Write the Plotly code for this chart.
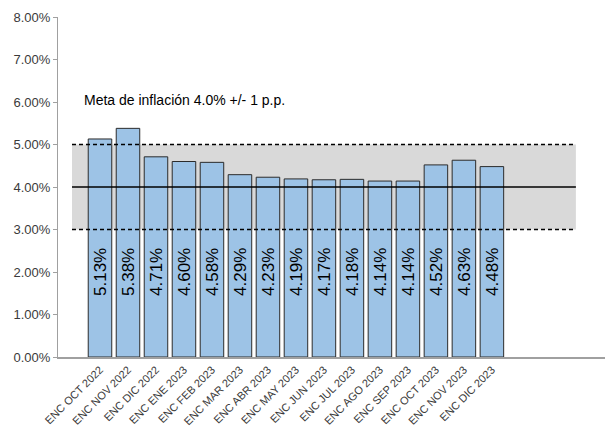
import plotly.graph_objects as go

# Inflation expectations survey (ENC), monthly readings
categories = ["ENC OCT 2022", "ENC NOV 2022", "ENC DIC 2022", "ENC ENE 2023",
              "ENC FEB 2023", "ENC MAR 2023", "ENC ABR 2023", "ENC MAY 2023",
              "ENC JUN 2023", "ENC JUL 2023", "ENC AGO 2023", "ENC SEP 2023",
              "ENC OCT 2023", "ENC NOV 2023", "ENC DIC 2023"]
values = [5.13, 5.38, 4.71, 4.60, 4.58, 4.29, 4.23, 4.19, 4.17, 4.18,
          4.14, 4.14, 4.52, 4.63, 4.48]

# Inflation target and tolerance band
target = 4.0
tolerance = 1.0
y_ticks = [0, 1, 2, 3, 4, 5, 6, 7, 8]

FONT = "Arial, Liberation Sans, sans-serif"
TEXT = "#3a3a3a"

x_idx = list(range(len(categories)))
band_x0 = -1
band_x1 = len(categories) + 2

fig = go.Figure()
fig.add_trace(go.Bar(
    x=x_idx, y=values, width=0.84,
    marker=dict(color="#9dc3e6", line=dict(color="#2b2b2b", width=1)),
    hoverinfo="skip", showlegend=False,
))

# tolerance band behind the bars
fig.add_shape(type="rect", xref="x", yref="y", x0=band_x0, x1=band_x1,
              y0=target - tolerance, y1=target + tolerance,
              fillcolor="#d9d9d9", line=dict(width=0), layer="below")
# band limits and target line above the bars
for level, dash in [(target + tolerance, "4px,3px"), (target - tolerance, "4px,3px"),
                    (target, "solid")]:
    fig.add_shape(type="line", xref="x", yref="y", x0=band_x0, x1=band_x1,
                  y0=level, y1=level, layer="above",
                  line=dict(color="black", width=1.6 if dash == "solid" else 1.4, dash=dash))

# value labels inside the bars
for i, v in zip(x_idx, values):
    fig.add_annotation(x=i, y=2.0, text=f"{v:.2f}%", textangle=-90,
                       showarrow=False, xanchor="center", yanchor="middle",
                       font=dict(family=FONT, size=17, color="black"))

fig.add_annotation(x=-0.66, y=6.05, xanchor="left", yanchor="middle",
                   text=f"Meta de inflación {target:.1f}% +/- {tolerance:.0f} p.p.",
                   showarrow=False, font=dict(family=FONT, size=14, color="black"))

fig.update_layout(
    width=606, height=430,
    margin=dict(l=58, r=1, t=17, b=73),
    paper_bgcolor="white", plot_bgcolor="white",
    font=dict(family=FONT, color=TEXT),
    bargap=0.16,
)
fig.update_xaxes(
    range=[-1.5, 18.04], tickmode="array", tickvals=x_idx, ticktext=categories,
    tickangle=-45, tickfont=dict(size=11, color=TEXT),
    showline=True, linecolor="#a0a0a0", linewidth=2,
    showgrid=False, zeroline=False, ticks="",
)
fig.update_yaxes(
    range=[0, 8], tickmode="array", tickvals=y_ticks,
    ticktext=[f"{t:.2f}%" for t in y_ticks],
    tickfont=dict(size=13, color=TEXT),
    showline=True, linecolor="#a0a0a0", linewidth=1,
    ticks="outside", ticklen=4, tickcolor="#a0a0a0",
    showgrid=False, zeroline=False,
)

fig.write_html("out.html")
